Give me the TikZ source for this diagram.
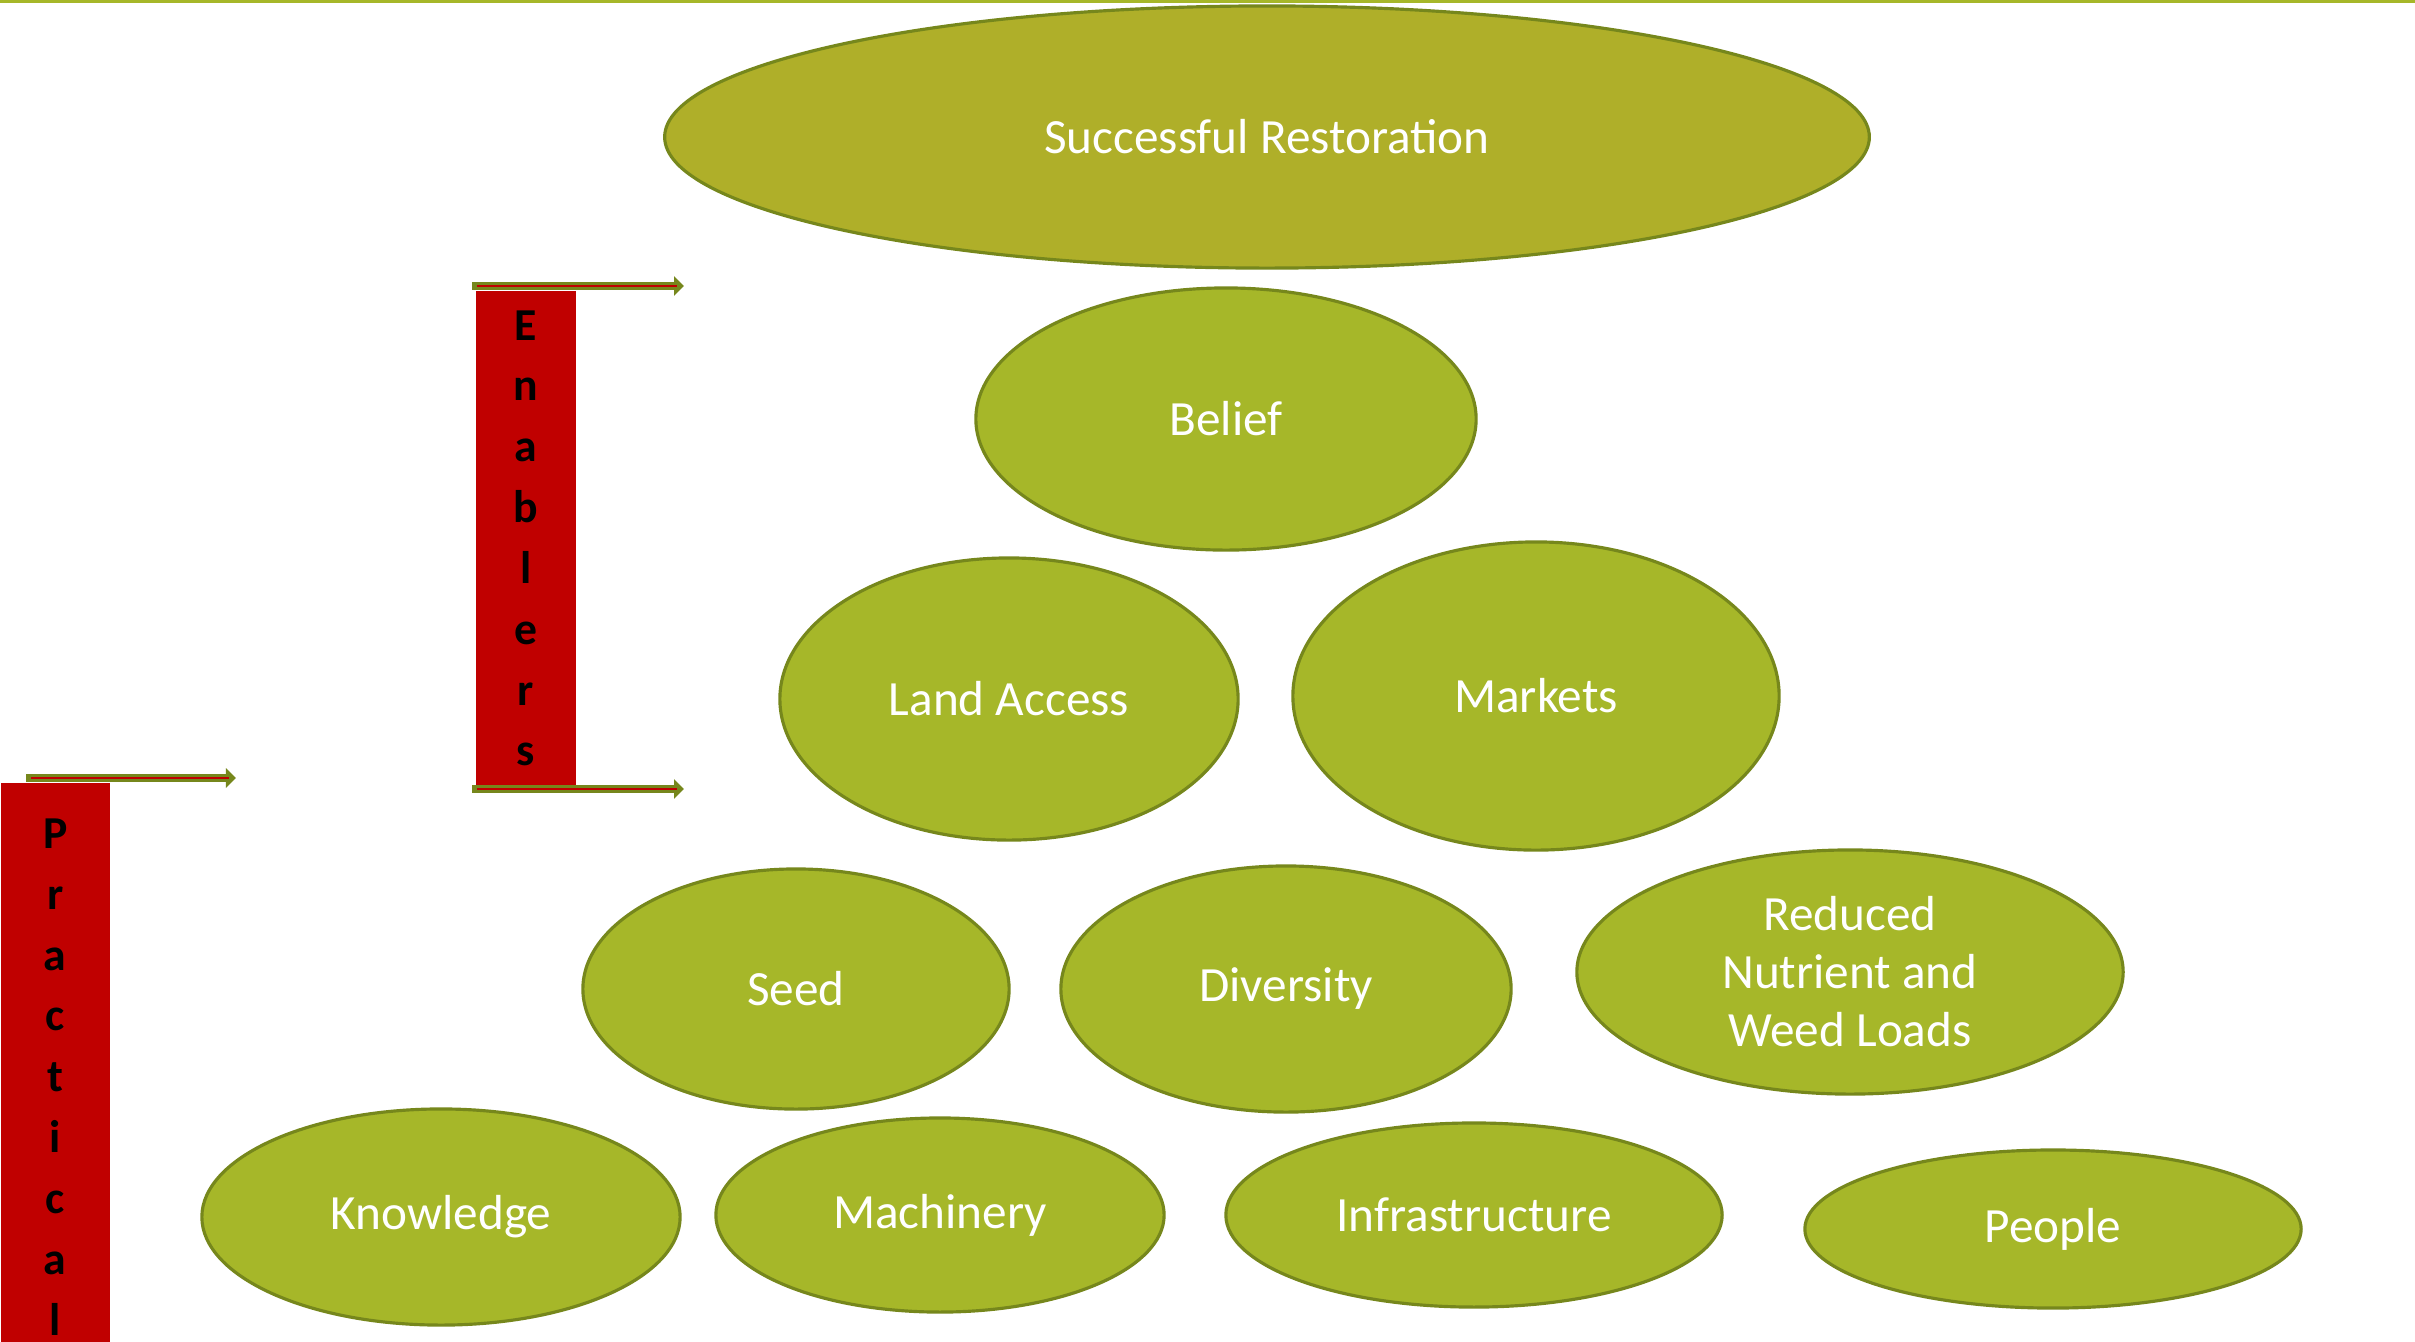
\documentclass[tikz,border=0pt]{standalone}
\usepackage{fontspec}
\setmainfont{Carlito}
\usetikzlibrary{arrows.meta,shapes.geometric}
\definecolor{leaf}{HTML}{A6B729}
\definecolor{olivedge}{HTML}{76871C}
\definecolor{goalfill}{HTML}{AFAF29}
\definecolor{barred}{HTML}{C00000}

\begin{document}
\begin{tikzpicture}[x=0.01cm, y=-0.01cm,
  factor/.style={ellipse, draw=olivedge, line width=0.9pt, fill=leaf, text=white, align=center, inner sep=0pt, font=\fontsize{14pt}{16.5pt}\selectfont},
  outcome/.style={factor, fill=goalfill},
  bar/.style={fill=barred, inner sep=0pt, align=center, anchor=north west, font=\fontsize{13pt}{17.3pt}\selectfont\bfseries},
  rail/.style={draw=olivedge, line width=0.085cm, -{Triangle[length=0.1cm, width=0.19cm]}},
  railcore/.style={draw=barred, line width=0.35pt}
]
  \useasboundingbox (0,0) rectangle (2415,1341);
  \fill[leaf] (0,0) rectangle (2415,3);

  \node[outcome, minimum width=12.04cm, minimum height=2.62cm] (goal) at (1267,137) {Successful Restoration};

  \node[factor, minimum width=5.00cm, minimum height=2.62cm] (belief) at (1226,419) {Belief};
  \node[factor, minimum width=4.58cm, minimum height=2.82cm] (land) at (1009,699) {Land Access};
  \node[factor, minimum width=4.86cm, minimum height=3.08cm] (markets) at (1536,696) {Markets};

  \node[factor, minimum width=4.26cm, minimum height=2.40cm] (seed) at (796,989) {Seed};
  \node[factor, minimum width=4.50cm, minimum height=2.46cm] (diversity) at (1286,989) {Diversity};
  \node[factor, minimum width=5.46cm, minimum height=2.44cm] (loads) at (1850,972) {Reduced\\Nutrient and\\Weed Loads};

  \node[factor, minimum width=4.78cm, minimum height=2.16cm] (knowledge) at (441,1217) {Knowledge};
  \node[factor, minimum width=4.48cm, minimum height=1.94cm] (machinery) at (940,1215) {Machinery};
  \node[factor, minimum width=4.96cm, minimum height=1.84cm] (infra) at (1474,1215) {Infrastructure};
  \node[factor, minimum width=4.96cm, minimum height=1.58cm] (people) at (2053,1229) {People};

  \node[bar, minimum width=1.00cm, minimum height=4.95cm] (enablers) at (475,290) {E\\n\\a\\b\\l\\e\\r\\s};
  \node[bar, minimum width=1.09cm, minimum height=5.88cm] (practical) at (0,782) {P\\r\\a\\c\\t\\i\\c\\a\\l};

  \coordinate (entop) at (472,286);
  \coordinate (entopend) at (684,286);
  \coordinate (enbot) at (472,789);
  \coordinate (enbotend) at (684,789);
  \coordinate (prtop) at (26,778);
  \coordinate (prtopend) at (236,778);

  \draw[rail] (entop) -- (entopend);
  \draw[rail] (enbot) -- (enbotend);
  \draw[rail] (prtop) -- (prtopend);

  \draw[railcore] ([xshift=0.05cm]entop) -- ([xshift=-0.07cm]entopend);
  \draw[railcore] ([xshift=0.05cm]enbot) -- ([xshift=-0.07cm]enbotend);
  \draw[railcore] ([xshift=0.05cm]prtop) -- ([xshift=-0.07cm]prtopend);
\end{tikzpicture}
\end{document}
